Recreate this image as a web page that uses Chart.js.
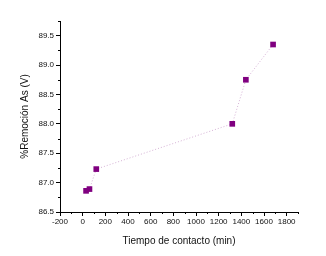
<!DOCTYPE html>
<html>
<head>
<meta charset="utf-8">
<script src="https://cdn.jsdelivr.net/npm/chart.js@4"></script>
<style>
html,body{margin:0;padding:0;background:#fff;}
#wrap{width:326px;height:256px;}
</style>
</head>
<body>
<div id="wrap"><canvas id="c" width="326" height="256"></canvas></div>
<script>
const timeMin = [30, 60, 120, 1320, 1440, 1680];
const removalAs = [86.86, 86.89, 87.23, 88.0, 88.75, 89.35];
const xTickStep = 100;
const yTickStep = 0.25;

const minorTicks = {
  id: 'minorTicks',
  afterDraw(chart) {
    const ctx = chart.ctx;
    ctx.save();
    ctx.strokeStyle = '#000';
    ctx.lineWidth = 1;
    const xs = chart.scales.x, ys = chart.scales.y;
    xs.ticks.forEach(t => {
      if (Math.round(t.value) % 200 !== 0) {
        const px = Math.round(xs.getPixelForValue(t.value)) + 0.5;
        ctx.beginPath(); ctx.moveTo(px, xs.top); ctx.lineTo(px, xs.top + 2); ctx.stroke();
      }
    });
    ys.ticks.forEach(t => {
      if (Math.abs(Math.round(t.value * 2) - t.value * 2) > 1e-6) {
        const py = Math.round(ys.getPixelForValue(t.value)) + 0.5;
        ctx.beginPath(); ctx.moveTo(ys.right, py); ctx.lineTo(ys.right - 2, py); ctx.stroke();
      }
    });
    ctx.restore();
  }
};

new Chart(document.getElementById('c'), {
  type: 'scatter',
  data: {
    datasets: [{
      data: timeMin.map((t, i) => ({x: t, y: removalAs[i]})),
      showLine: true,
      borderColor: 'rgba(150,60,150,0.4)',
      borderWidth: 1,
      borderDash: [1, 2],
      pointStyle: 'rect',
      pointRadius: 4,
      pointBackgroundColor: '#800080',
      pointBorderColor: '#800080',
      pointBorderWidth: 0
    }]
  },
  options: {
    responsive: false,
    animation: false,
    layout: {padding: {top: 21, right: 28, left: 0, bottom: 0}},
    plugins: {legend: {display: false}, tooltip: {enabled: false}},
    scales: {
      x: {
        type: 'linear',
        min: -200, max: 1900,
        afterFit(s) { s.height = 44; },
        border: {color: '#000', width: 1},
        grid: {drawOnChartArea: false, drawTicks: true, tickLength: 4,
               tickColor: c => (Math.round(c.tick.value) % 200 === 0 ? '#000' : 'rgba(0,0,0,0)')},
        ticks: {
          stepSize: xTickStep, autoSkip: false, maxRotation: 0, padding: 1,
          color: '#111', font: {family: 'Liberation Sans', size: 8},
          callback: v => (Math.round(v) % 200 === 0 ? String(v) : '')
        },
        title: {display: true, text: 'Tiempo de contacto (min)', color: '#111',
                font: {family: 'Liberation Sans', size: 10}, padding: {top: 0, bottom: 9}}
      },
      y: {
        min: 86.5, max: 89.75,
        afterFit(s) { s.width = 60; },
        border: {color: '#000', width: 1},
        grid: {drawOnChartArea: false, drawTicks: true, tickLength: 4,
               tickColor: c => (Math.abs(Math.round(c.tick.value * 2) - c.tick.value * 2) < 1e-6 ? '#000' : 'rgba(0,0,0,0)')},
        ticks: {
          stepSize: yTickStep, autoSkip: false, padding: 2,
          color: '#111', font: {family: 'Liberation Sans', size: 8},
          callback: v => (Math.abs(Math.round(v * 2) - v * 2) < 1e-6 ? v.toFixed(1) : '')
        },
        title: {display: true, text: '%Remoción As (V)', color: '#111',
                font: {family: 'Liberation Sans', size: 10}, padding: {top: 19, bottom: 0}}
      }
    }
  },
  plugins: [minorTicks]
});
</script>
</body>
</html>
